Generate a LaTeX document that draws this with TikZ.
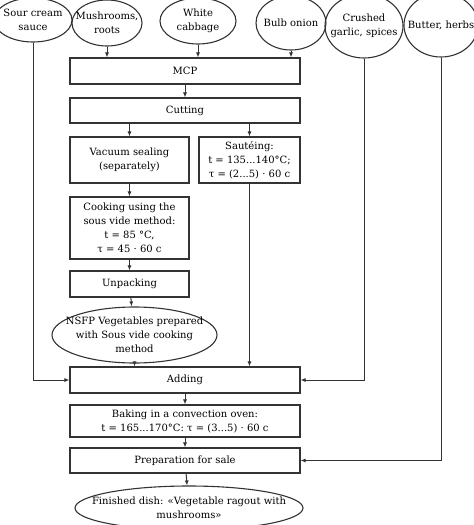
\documentclass[tikz,border=0pt]{standalone}
\usepackage{fontspec}
\setmainfont{DejaVu Serif}
\usepackage{tikz}
\usetikzlibrary{arrows.meta,shapes.geometric,positioning}
\tikzset{
  basic/.style  = {draw=black!80, line width=1.1pt, align=center, inner sep=1pt,
                   font=\fontsize{10}{14}\selectfont},
  stepbox/.style = {basic, rectangle, minimum height=25pt},
  wide/.style   = {stepbox, minimum width=230pt},
  narrow/.style = {stepbox, minimum width=119pt},
  oval/.style   = {basic, ellipse, inner xsep=-20pt, inner ysep=-6pt},
  flow/.style   = {draw=black!80, line width=1pt, -{Latex[length=5pt,width=4pt]}}
}

\begin{document}
\begin{tikzpicture}[x=1pt,y=-1pt]
\useasboundingbox (0,0) rectangle (474,525);

% raw materials on top
\node[oval, minimum width=78pt, minimum height=44pt] (sour)   at (33,20)  {Sour cream\\sauce};
\node[oval, minimum width=70pt, minimum height=46pt] (mush)   at (107,23) {Mushrooms,\\roots};
\node[oval, minimum width=76pt, minimum height=46pt] (cab)    at (198,21) {White\\cabbage};
\node[oval, minimum width=70pt, minimum height=54pt] (onion)  at (291,23) {Bulb onion};
\node[oval, minimum width=78pt, minimum height=64pt] (garlic) at (364,26) {Crushed\\garlic, spices};
\node[oval, minimum width=74pt, minimum height=64pt] (butter) at (441,25) {Butter, herbs};

% main steps
\node[wide, minimum height=26pt] (mcp) at (185,71)  {MCP};
\node[wide] (cut) at (185,110.5) {Cutting};
\node[narrow, minimum height=46pt] (vac)  at (129.5,160) {Vacuum sealing\\(separately)};
\node[stepbox, minimum width=101pt, minimum height=46pt] (saut) at (249.5,160)
  {Saut\'eing:\\t = 135...140°C;\\τ = (2...5) · 60 c};
\node[narrow, minimum height=62pt] (cook) at (129.5,228)
  {Cooking using the\\sous vide method:\\t = 85 °C,\\τ = 45 · 60 c};
\node[narrow, minimum height=26pt] (unp) at (129.5,284) {Unpacking};
\node[oval, minimum width=165pt, minimum height=56pt] (nsfp) at (134.5,335)
  {NSFP Vegetables prepared\\with Sous vide cooking\\method};
\node[wide, minimum height=26pt] (add)  at (185,380)   {Adding};
\node[wide, minimum height=32pt] (bake) at (185,421)
  {Baking in a convection oven:\\t = 165...170°C: τ = (3...5) · 60 c};
\node[wide] (prep) at (185,460.5) {Preparation for sale};
\node[oval, minimum width=228pt, minimum height=44pt] (fin) at (189,508)
  {Finished dish: «Vegetable ragout with\\mushrooms»};

% connectors
\draw[flow] (mush.south)  -- (mush.south |- mcp.north);
\draw[flow] (cab.south)   -- (cab.south |- mcp.north);
\draw[flow] (onion.south) -- (onion.south |- mcp.north);
\draw[flow] (mcp) -- (cut);
\draw[flow] (vac.north |- cut.south)  -- (vac.north);
\draw[flow] (saut.north |- cut.south) -- (saut.north);
\draw[flow] (vac)  -- (cook);
\draw[flow] (cook) -- (unp);
\draw[flow] (unp)  -- (nsfp);
\draw[flow] (nsfp.south) -- (nsfp.south |- add.north);
\draw[flow] (saut.south) -- (saut.south |- add.north);
\draw[flow] (sour.south)   |- (add.west);
\draw[flow] (garlic.south) |- (add.east);
\draw[flow] (butter.south) |- (prep.east);
\draw[flow] (add)  -- (bake);
\draw[flow] (bake) -- (prep);
\draw[flow] (prep) -- (fin);

\end{tikzpicture}
\end{document}
